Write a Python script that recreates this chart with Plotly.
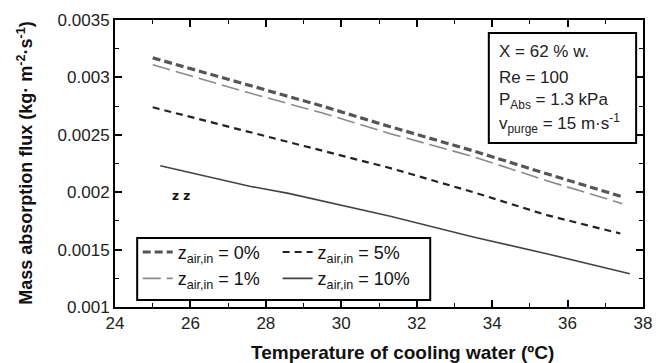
import plotly.graph_objects as go

# ---- data ----
x_0 = [25.0, 27.5, 29.5, 31.3, 33.5, 35.45, 37.45]
y_0 = [0.00317, 0.00294, 0.00275, 0.00257, 0.00236, 0.00216, 0.00196]

x_1 = [25.0, 27.5, 29.5, 31.3, 33.5, 35.45, 37.45]
y_1 = [0.00311, 0.00287, 0.00269, 0.00251, 0.00231, 0.00210, 0.00190]

x_5 = [25.0, 27.5, 29.5, 31.3, 33.5, 35.45, 37.4]
y_5 = [0.00274, 0.00253, 0.00236, 0.00221, 0.00200, 0.00180, 0.00164]

x_10 = [25.2, 27.6, 28.6, 31.3, 33.5, 35.5, 37.65]
y_10 = [0.00223, 0.00205, 0.00199, 0.00179, 0.00161, 0.00146, 0.00129]

names = ["z<sub>air,in</sub> = 0%", "z<sub>air,in</sub> = 1%",
         "z<sub>air,in</sub> = 5%", "z<sub>air,in</sub> = 10%"]

x_tick_vals = [24, 26, 28, 30, 32, 34, 36, 38]
x_tick_text = ["24", "26", "28", "30", "32", "34", "36", "38"]
y_tick_vals = [0.001, 0.0015, 0.002, 0.0025, 0.003, 0.0035]
y_tick_text = ["0.001", "0.0015", "0.002", "0.0025", "0.003", "0.0035"]

info_lines = ["X = 62 % w.", "Re = 100", "P<sub>Abs</sub> = 1.3 kPa",
              "v<sub>purge</sub> = 15 m·s<sup>-1</sup>"]

FONT = "Liberation Sans, Arial, sans-serif"

fig = go.Figure()
fig.add_trace(go.Scatter(x=x_0, y=y_0, mode="lines", name=names[0],
                         line=dict(color="#555555", width=3.2, dash="8px,4px"),
                         legend="legend"))
fig.add_trace(go.Scatter(x=x_1, y=y_1, mode="lines", name=names[1],
                         line=dict(color="#8a8a8a", width=1.6, dash="18px,6px"),
                         legend="legend"))
fig.add_trace(go.Scatter(x=x_5, y=y_5, mode="lines", name=names[2],
                         line=dict(color="#222222", width=2.2, dash="7px,5px"),
                         legend="legend2"))
fig.add_trace(go.Scatter(x=x_10, y=y_10, mode="lines", name=names[3],
                         line=dict(color="#444444", width=1.6),
                         legend="legend2"))

axis_common = dict(showline=True, linecolor="black", linewidth=2, mirror="allticks",
                   ticks="inside", ticklen=7, tickwidth=1.5, tickcolor="black",
                   showgrid=False, zeroline=False, automargin=False,
                   tickfont=dict(family=FONT, size=17, color="#222"))

fig.update_xaxes(range=[24, 38], tickvals=x_tick_vals, ticktext=x_tick_text,
                 minor=dict(ticks="inside", ticklen=4, dtick=1, tick0=24, tickcolor="black", tickwidth=1.2),
                 **axis_common)
fig.update_yaxes(range=[0.001, 0.0035], tickvals=y_tick_vals, ticktext=y_tick_text,
                 minor=dict(ticks="inside", ticklen=4, dtick=0.00025, tick0=0.001, tickcolor="black", tickwidth=1.2),
                 **axis_common)

legend_common = dict(bgcolor="rgba(0,0,0,0)", borderwidth=0, orientation="v",
                     yanchor="top", xanchor="left", tracegroupgap=0, itemwidth=30,
                     font=dict(family=FONT, size=18, color="#111"))

fig.update_layout(
    width=652, height=355,
    margin=dict(l=107, r=17, t=12, b=56),
    plot_bgcolor="white", paper_bgcolor="white",
    legend=dict(x=0.043, y=0.255, **legend_common),
    legend2=dict(x=0.308, y=0.255, **legend_common),
    shapes=[
        dict(type="rect", xref="paper", yref="paper", x0=0.042, x1=0.597, y0=0.024, y1=0.24,
             line=dict(color="black", width=2)),
        dict(type="rect", xref="paper", yref="paper", x0=0.708, x1=0.987, y0=0.571, y1=0.955,
             line=dict(color="black", width=2)),
    ],
)

annotations = []
info_y_px = [52, 77, 101, 123]
for txt, ypx in zip(info_lines, info_y_px):
    annotations.append(dict(text=txt, xref="paper", yref="paper",
                            x=(497 - 115) / 528, y=(307 - ypx) / 287,
                            xanchor="left", yanchor="middle", showarrow=False,
                            font=dict(family=FONT, size=17, color="#222")))
annotations.append(dict(text="<b>Temperature of cooling water (ºC)</b>", xref="paper", yref="paper",
                        x=0.5436, y=-0.157, xanchor="center", yanchor="middle", showarrow=False,
                        font=dict(family=FONT, size=19, color="#111")))
annotations.append(dict(text="<b>Mass absorption flux (kg· m<sup>-2</sup>·s<sup>-1</sup>)</b>",
                        xref="paper", yref="paper", x=-0.170, y=0.5, textangle=-90,
                        xanchor="center", yanchor="middle", showarrow=False,
                        font=dict(family=FONT, size=18, color="#111")))
annotations.append(dict(text="<b>z z</b>", xref="paper", yref="paper",
                        x=(181 - 115) / 528, y=(307 - 196) / 287, xanchor="center", yanchor="middle",
                        showarrow=False, font=dict(family="DejaVu Sans", size=12, color="#111")))
fig.update_layout(annotations=annotations)

fig.write_html("out.html")
